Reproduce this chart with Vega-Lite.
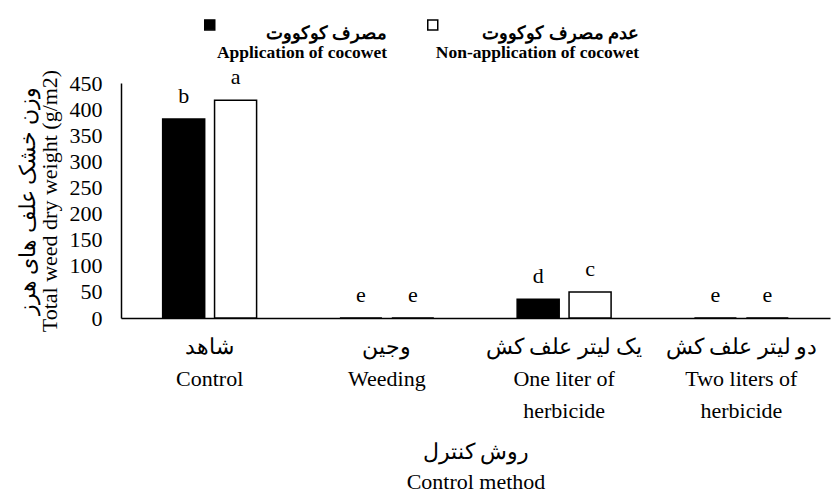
{
  "$schema": "https://vega.github.io/schema/vega-lite/v6.json",
  "autosize": {"type": "none"},
  "width": 709,
  "height": 235,
  "padding": {"left": 121, "top": 83, "right": 3, "bottom": 177},
  "background": "white",
  "config": {"view": {"stroke": null}, "font": "Liberation Serif, Times New Roman, serif"},
  "data": {
    "values": [
      {"method": "Control", "treatment": "Application", "weight": 381, "letter": "b"},
      {"method": "Control", "treatment": "Non-application", "weight": 417, "letter": "a"},
      {"method": "Weeding", "treatment": "Application", "weight": 0, "letter": "e"},
      {"method": "Weeding", "treatment": "Non-application", "weight": 0, "letter": "e"},
      {"method": "One liter", "treatment": "Application", "weight": 36, "letter": "d"},
      {"method": "One liter", "treatment": "Non-application", "weight": 50, "letter": "c"},
      {"method": "Two liters", "treatment": "Application", "weight": 0, "letter": "e"},
      {"method": "Two liters", "treatment": "Non-application", "weight": 0, "letter": "e"}
    ]
  },
  "encoding": {
    "x": {
      "field": "method",
      "type": "nominal",
      "sort": ["Control", "Weeding", "One liter", "Two liters"],
      "scale": {"paddingInner": 0.47, "paddingOuter": 0.235},
      "title": ["روش کنترل", "Control method"],
      "axis": {
        "labelAngle": 0,
        "labelExpr": "{'Control': ['شاهد', 'Control'], 'Weeding': ['وجین', 'Weeding'], 'One liter': ['یک لیتر علف کش', 'One liter of', 'herbicide'], 'Two liters': ['دو لیتر علف کش', 'Two liters of', 'herbicide']}[datum.value]",
        "labelFont": "Liberation Serif, Times New Roman, serif",
        "labelFontSize": 22,
        "labelColor": "black",
        "labelLineHeight": 32,
        "labelBaseline": "top",
        "labelPadding": 18,
        "ticks": false,
        "domainColor": "black",
        "domainWidth": 1.5,
        "titleFont": "Liberation Serif, Times New Roman, serif",
        "titleFontSize": 22,
        "titleFontWeight": "normal",
        "titleColor": "black",
        "titleLineHeight": 30,
        "titlePadding": 20
      }
    },
    "xOffset": {
      "field": "treatment",
      "sort": ["Application", "Non-application"],
      "scale": {"paddingInner": 0.19, "paddingOuter": 0}
    },
    "y": {
      "field": "weight",
      "type": "quantitative",
      "scale": {"domain": [0, 450], "nice": false},
      "title": ["وزن خشک علف های هرز", "Total weed dry weight (g/m2)"],
      "axis": {
        "values": [0, 50, 100, 150, 200, 250, 300, 350, 400, 450],
        "grid": false,
        "ticks": false,
        "domainColor": "black",
        "domainWidth": 1.5,
        "labelFont": "Liberation Serif, Times New Roman, serif",
        "labelFontSize": 22,
        "labelColor": "black",
        "labelPadding": 19,
        "titleFont": "Liberation Serif, Times New Roman, serif",
        "titleFontSize": 22,
        "titleFontWeight": "normal",
        "titleColor": "black",
        "titleLineHeight": 22,
        "titlePadding": 8
      }
    }
  },
  "layer": [
    {
      "mark": {"type": "bar", "stroke": "black", "strokeWidth": 1.5},
      "encoding": {
        "fill": {
          "field": "treatment",
          "type": "nominal",
          "scale": {"domain": ["Application", "Non-application"], "range": ["black", "white"]},
          "legend": {
            "orient": "none",
            "legendX": 80,
            "legendY": -67,
            "direction": "horizontal",
            "title": null,
            "symbolType": "square",
            "symbolSize": 100,
            "symbolStrokeColor": "black",
            "symbolStrokeWidth": 1.5,
            "labelFont": "Liberation Serif, Times New Roman, serif",
            "labelFontWeight": "bold",
            "labelFontSize": 17.5,
            "labelColor": "black",
            "labelLineHeight": 22,
            "labelBaseline": "top",
            "labelLimit": 400,
            "labelAlign": "right",
            "columnPadding": 37,
            "labelExpr": "datum.value == 'Application' ? ['مصرف کوکووت', 'Application of cocowet'] : ['عدم مصرف کوکووت', 'Non-application of cocowet']",
            "encoding": {
              "labels": {
                "x": {"value": {"signal": "datum.value == 'Application' ? 186 : 215"}}
              }
            }
          }
        }
      }
    },
    {
      "mark": {"type": "text", "baseline": "alphabetic", "dy": -16, "fontSize": 22, "color": "black", "font": "Liberation Serif, Times New Roman, serif"},
      "encoding": {
        "text": {"field": "letter"}
      }
    }
  ]
}
